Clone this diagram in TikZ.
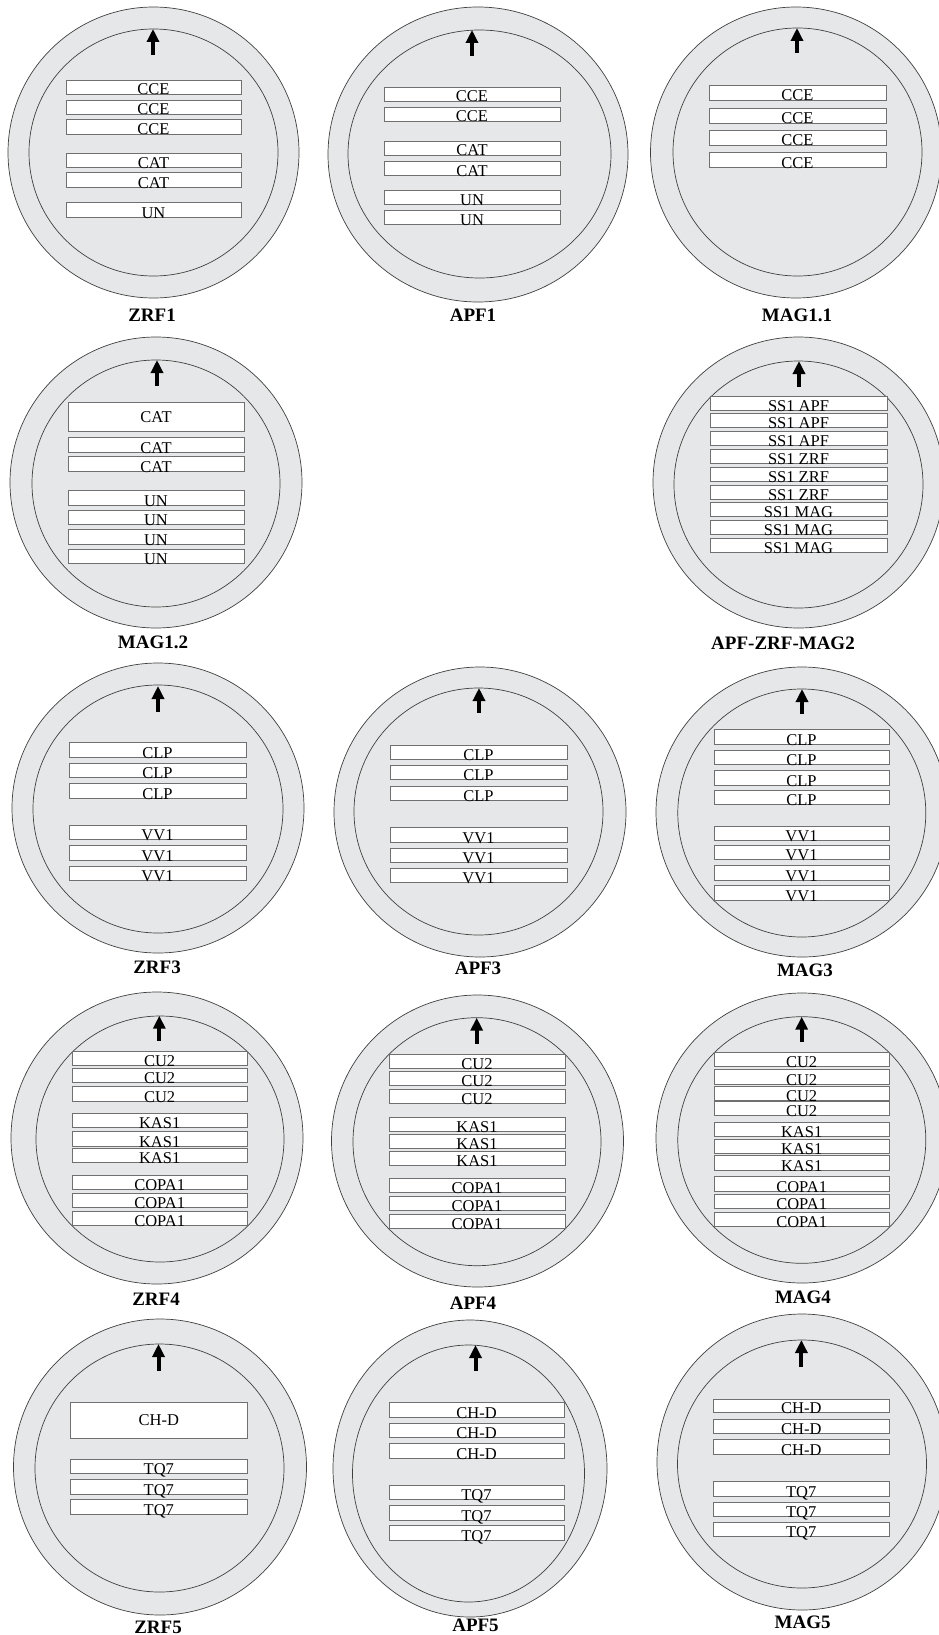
\documentclass[tikz,border=0pt]{standalone}
\usepackage{fontspec}
\setmainfont{Liberation Serif}
\usetikzlibrary{arrows.meta}
\definecolor{discfill}{HTML}{E6E7E8}
\definecolor{discline}{HTML}{404040}
\definecolor{boxline}{HTML}{707070}
\newcounter{bxn}
% thin box: x1 x2 ytop ybot text
\newcommand\bx[5]{\stepcounter{bxn}%
  \draw[boxst] (#1,#3) rectangle (#2,#4);
  \node[txt,anchor=base] (b\arabic{bxn}) at ({(#1+#2)/2},{#4+1}) {#5};}
% tall box, text centred
\newcommand\tallbx[5]{\stepcounter{bxn}%
  \draw[boxst] (#1,#3) rectangle (#2,#4);
  \node[txt,anchor=base] (b\arabic{bxn}) at ({(#1+#2)/2},{(#3+#4)/2+5.5}) {#5};}
% disc: name, ocx, ocy, orx, ory, icx, icy, irx, iry
\newcommand\disc[9]{%
  \draw[outerst] (#2,#3) ellipse [x radius=#4pt, y radius=#5pt];
  \draw[innerst] (#6,#7) ellipse [x radius=#8pt, y radius=#9pt];}
% arrow: x, ytip, ybottom
\newcommand\uparr[3]{\draw[arrst] (#1,#3) -- (#1,#2);}
\begin{document}
\begin{tikzpicture}[x=1pt,y=-1pt,
  outerst/.style={fill=discfill,draw=discline,line width=0.7pt},
  innerst/.style={draw=discline,line width=0.7pt},
  boxst/.style={fill=white,draw=boxline,line width=0.9pt},
  txt/.style={inner sep=0pt,font=\fontsize{16.5}{16.5}\selectfont},
  lbl/.style={inner sep=0pt,anchor=base,font=\fontsize{19}{19}\selectfont\bfseries},
  arrst/.style={line width=4pt,-{Triangle[width=12pt,length=13pt]}}]
\useasboundingbox (0,0) rectangle (938,1635);
\fill[white] (0,0) rectangle (938,1635);

% ---------- ZRF1
\disc{zrf1}{153.5}{152.5}{145.5}{145.5}{153.5}{152.5}{124.5}{123.5}
\uparr{153}{29}{55}
\bx{66}{241}{80}{94}{CCE}
\bx{66}{241}{100}{114}{CCE}
\bx{66}{241}{119.3}{134}{CCE}
\bx{66}{241}{153}{167}{CAT}
\bx{66}{241}{172.7}{187}{CAT}
\bx{66}{241}{202}{217}{UN}
\node[lbl] (lzrf1) at (152,321.5) {ZRF1};

% ---------- APF1
\disc{apf1}{478}{154.5}{150}{147.5}{479.5}{154}{131.5}{124}
\uparr{472}{30}{56}
\bx{384}{560}{87}{101}{CCE}
\bx{384}{560}{107}{121}{CCE}
\bx{384}{560}{141}{155}{CAT}
\bx{384}{560}{161}{175}{CAT}
\bx{384}{560}{190}{204}{UN}
\bx{384}{560}{210}{224}{UN}
\node[lbl] (lapf1) at (473,321.5) {APF1};

% ---------- MAG1.1
\disc{mag11}{796}{152.5}{145.5}{145.5}{797.5}{152}{124.5}{124}
\uparr{797}{28}{53}
\bx{709}{886}{85}{100}{CCE}
\bx{709}{886}{108}{123}{CCE}
\bx{709}{886}{130}{145}{CCE}
\bx{709}{886}{152}{167}{CCE}
\node[lbl] (lmag11) at (797,321.5) {MAG1.1};

% ---------- MAG1.2
\disc{mag12}{156}{482.5}{146}{145.5}{156}{483.5}{124}{123.5}
\uparr{157}{360}{386}
\tallbx{68}{244}{402.7}{431}{CAT}
\bx{68}{244}{437}{452}{CAT}
\bx{68}{244}{456}{471}{CAT}
\bx{68}{244}{490.7}{505}{UN}
\bx{68}{244}{510}{524}{UN}
\bx{68}{244}{529}{544}{UN}
\bx{68}{244}{549}{563}{UN}
\node[lbl] (lmag12) at (153,648.5) {MAG1.2};

% ---------- APF-ZRF-MAG2
\disc{azm2}{798.5}{482.5}{145.5}{145.5}{798.5}{484.5}{124.5}{123.5}
\uparr{799}{361}{387}
\bx{710}{887}{396}{410}{SS1 APF}
\bx{710}{887}{413.3}{427.3}{SS1 APF}
\bx{710}{887}{431.7}{445.7}{SS1 APF}
\bx{710}{887}{449.3}{463.3}{SS1 ZRF}
\bx{710}{887}{467.3}{481.3}{SS1 ZRF}
\bx{710}{887}{485}{499}{SS1 ZRF}
\bx{710}{887}{502.7}{516.7}{SS1 MAG}
\bx{710}{887}{520.7}{534.7}{SS1 MAG}
\bx{710}{887}{538.3}{552.3}{SS1 MAG}
\node[lbl] (lazm2) at (783,649.5) {APF-ZRF-MAG2};

% ---------- ZRF3
\disc{zrf3}{158}{808}{146}{145}{158}{809}{125}{124}
\uparr{158}{686}{712}
\bx{69}{246}{742}{757}{CLP}
\bx{69}{246}{763}{777}{CLP}
\bx{69}{246}{783}{798}{CLP}
\bx{69}{246}{825}{839}{VV1}
\bx{69}{246}{845}{860}{VV1}
\bx{69}{246}{866}{880}{VV1}
\node[lbl] (lzrf3) at (157,973.5) {ZRF3};

% ---------- APF3
\disc{apf3}{480}{812}{146}{145}{478.5}{811.5}{124.5}{123.5}
\uparr{479}{688}{713}
\bx{390}{567}{745}{759}{CLP}
\bx{390}{567}{765}{779}{CLP}
\bx{390}{567}{786}{800}{CLP}
\bx{390}{567}{827}{842}{VV1}
\bx{390}{567}{848}{862}{VV1}
\bx{390}{567}{868}{882}{VV1}
\node[lbl] (lapf3) at (478,974.5) {APF3};

% ---------- MAG3
\disc{mag3}{802}{812}{146}{145}{801.8}{813}{124}{124}
\uparr{802}{689}{714}
\bx{714}{889}{729.3}{744}{CLP}
\bx{714}{889}{750}{764}{CLP}
\bx{714}{889}{770.7}{785.3}{CLP}
\bx{714}{889}{790}{804.3}{CLP}
\bx{714}{889}{826}{840.3}{VV1}
\bx{714}{889}{845}{859.3}{VV1}
\bx{714}{889}{865.7}{880}{VV1}
\bx{714}{889}{885.3}{900}{VV1}
\node[lbl] (lmag3) at (805,976.5) {MAG3};

% ---------- ZRF4
\disc{zrf4}{157}{1138}{146}{146}{160}{1139}{124}{123}
\uparr{159.3}{1015.7}{1041}
\bx{72}{247.3}{1051}{1065}{CU2}
\bx{72}{247.3}{1068.3}{1082.3}{CU2}
\bx{72}{247.3}{1086.3}{1101}{CU2}
\bx{72}{247.3}{1113.7}{1127.7}{KAS1}
\bx{72}{247.3}{1131.7}{1146}{KAS1}
\bx{72}{247.3}{1148.3}{1162.7}{KAS1}
\bx{72}{247.3}{1175.7}{1189.3}{COPA1}
\bx{72}{247.3}{1193.3}{1207.3}{COPA1}
\bx{72}{247.3}{1211}{1225}{COPA1}
\node[lbl] (lzrf4) at (156,1305.5) {ZRF4};

% ---------- APF4
\disc{apf4}{477.5}{1141}{146}{146}{477}{1141.7}{124}{124}
\uparr{476.7}{1017.7}{1044}
\bx{389}{565}{1054}{1068.3}{CU2}
\bx{389}{565}{1071.7}{1085.7}{CU2}
\bx{389}{565}{1089.3}{1103.3}{CU2}
\bx{389}{565}{1117}{1131}{KAS1}
\bx{389}{565}{1134.3}{1148.3}{KAS1}
\bx{389}{565}{1151.7}{1165}{KAS1}
\bx{389}{565}{1178.3}{1192.3}{COPA1}
\bx{389}{565}{1196}{1210}{COPA1}
\bx{389}{565}{1214}{1228.3}{COPA1}
\node[lbl] (lapf4) at (473,1309.5) {APF4};

% ---------- MAG4
\disc{mag4}{802}{1138}{146}{145}{801.8}{1140}{124}{123.3}
\uparr{801.7}{1016.7}{1042.3}
\bx{714}{889.3}{1052.3}{1066.7}{CU2}
\bx{714}{889.3}{1069.3}{1084}{CU2}
\bx{714}{889.3}{1086}{1100.7}{CU2}
\bx{714}{889.3}{1101}{1115.7}{CU2}
\bx{714}{889.3}{1122.3}{1136.7}{KAS1}
\bx{714}{889.3}{1139}{1153.3}{KAS1}
\bx{714}{889.3}{1155.7}{1170}{KAS1}
\bx{714}{889.3}{1176.7}{1191}{COPA1}
\bx{714}{889.3}{1194.3}{1208.3}{COPA1}
\bx{714}{889.3}{1212.3}{1226.7}{COPA1}
\node[lbl] (lmag4) at (803,1303.5) {MAG4};

% ---------- ZRF5
\disc{zrf5}{160}{1467}{146.5}{148}{159.5}{1468}{124.5}{124}
\uparr{158.5}{1344}{1371}
\tallbx{70.6}{247}{1402}{1438}{CH-D}
\bx{70.6}{247}{1459}{1473}{TQ7}
\bx{70.6}{247}{1479}{1494}{TQ7}
\bx{70.6}{247}{1499}{1514}{TQ7}
\node[lbl] (lzrf5) at (158,1633.5) {ZRF5};

% ---------- APF5
\disc{apf5}{470}{1468.5}{137}{148.5}{468.5}{1473.5}{116}{128.5}
\uparr{475.5}{1345}{1371}
\bx{389}{564}{1402}{1417}{CH-D}
\bx{389}{564}{1423}{1437}{CH-D}
\bx{389}{564}{1443}{1458}{CH-D}
\bx{389}{564}{1485}{1499}{TQ7}
\bx{389}{564}{1505}{1520}{TQ7}
\bx{389}{564}{1525}{1540}{TQ7}
\node[lbl] (lapf5) at (475.5,1631.5) {APF5};

% ---------- MAG5
\disc{mag5}{802}{1462}{145}{148}{802}{1464}{124.5}{124}
\uparr{801.4}{1340}{1367}
\bx{713.5}{889}{1399}{1412}{CH-D}
\bx{713.5}{889}{1419}{1433}{CH-D}
\bx{713.5}{889}{1439}{1454}{CH-D}
\bx{713.5}{889}{1481}{1496}{TQ7}
\bx{713.5}{889}{1502}{1516}{TQ7}
\bx{713.5}{889}{1522}{1536}{TQ7}
\node[lbl] (lmag5) at (802.6,1628.5) {MAG5};
\end{tikzpicture}
\end{document}
